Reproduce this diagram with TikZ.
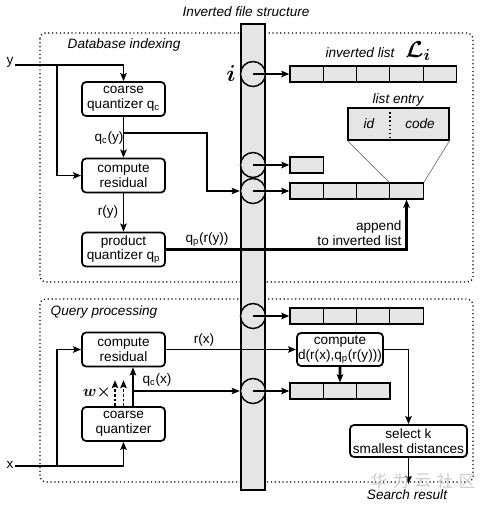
\documentclass[tikz,border=0pt]{standalone}
\usepackage{bm}
\usepackage{fontspec}
\setmainfont{Liberation Sans}
\newfontfamily\cjk{Noto Sans CJK SC}
\usetikzlibrary{arrows.meta,calc}
\tikzset{
 every node/.style={font=\fontsize{10.2}{11}\selectfont},
 box/.style={draw, line width=1.3pt, rounded corners=3pt, fill=white, align=center, inner sep=1pt, minimum width=62.25pt, minimum height=25.5pt},
 cell/.style={draw, line width=0.9pt, fill=gray!20, minimum width=24.98pt, minimum height=12pt, inner sep=0pt},
 slot/.style={draw, line width=1.1pt, fill=gray!20, circle, minimum size=18.75pt, inner sep=0pt},
 arr/.style={-{Stealth[length=6pt,width=4.8pt,inset=1pt]}},
 ln/.style={line width=1.2pt},
 thk/.style={line width=2pt},
 lbl/.style={inner sep=1pt},
 itl/.style={font=\fontsize{10.2}{11}\selectfont\itshape},
 dotbox/.style={dotted, line width=0.9pt, rounded corners=4pt},
 wmark/.style={font=\cjk\fontsize{12.5}{12.5}\selectfont, text=gray!40},
}
\begin{document}
\begin{tikzpicture}[x=0.75pt,y=-0.75pt]
\useasboundingbox (0,0) rectangle (490,508);
% dotted group boxes
\draw[dotbox] (40,33) rectangle (473,282);
\draw[dotbox] (40,299) rectangle (473,482);
\node[itl, anchor=west] (dbl) at (63,45) {Database indexing};
\node[itl, anchor=west] (qpl) at (46,312) {Query processing};
% inverted file bar
\node[itl] (title) at (246,12) {Inverted file structure};
\draw[line width=1pt, fill=gray!20] (241,24) rectangle (265,490);
% slots
\node[slot] (s1) at (253,74) {};
\node[slot] (s2) at (253,165) {};
\node[slot] (s3) at (253,191) {};
\node[slot] (s4) at (253,316) {};
\node[slot] (s5) at (253,391) {};
\node[font=\fontsize{16}{16}\selectfont] (ilab) at (231,74) {$\bm{i}$};
% lists
\foreach \k in {0,...,4} \node[cell] (a\k) at ({290+33.3*(\k+0.5)},74) {};
\node[cell] (b0) at ({290+33.3*0.5},165) {};
\foreach \k in {0,...,3} \node[cell] (c\k) at ({290+33.3*(\k+0.5)},191) {};
\foreach \k in {0,...,3} \node[cell] (d\k) at ({290+33.3*(\k+0.5)},316) {};
\foreach \k in {0,...,2} \node[cell] (e\k) at ({290+33.3*(\k+0.5)},391) {};
\draw[ln,arr] (s1.center) -- (a0.west);
\draw[ln,arr] (s2.center) -- (b0.west);
\draw[ln,arr] (s3.center) -- (c0.west);
\draw[ln,arr] (s4.center) -- (d0.west);
\draw[ln,arr] (s5.center) -- (e0.west);
\node[itl] (ill) at (360,53) {inverted list};
\node[font=\fontsize{17}{17}\selectfont] (Li) at (418,51) {$\bm{\mathcal{L}_i}$};
% list entry
\node[cell, minimum width=75.75pt, minimum height=24pt] (le) at (398.5,124) {};
\draw[dotted, line width=1.1pt] (390,108) -- (390,140);
\node[itl] (idl) at (369,124) {id};
\node[itl] (codel) at (420,124) {code};
\node[itl] (lel) at (398,100) {list entry};
\draw[line width=0.4pt, gray!70!black] (le.south west) -- (c3.north west);
\draw[line width=0.4pt, gray!70!black] (le.south east) -- (c3.north east);
% database indexing
\node[box] (cq1) at (123.5,99) {coarse\\quantizer q\textsubscript{c}};
\node[box] (cr1) at (123.5,175.5) {compute\\residual};
\node[box] (pq) at (123.5,249.5) {product\\quantizer q\textsubscript{p}};
\node[anchor=east, inner sep=1pt] (yl) at (15,62) {y};
\coordinate (ys) at (15,65);
\coordinate (yb) at (57,65);
\draw[ln,arr] (ys) -| (cq1.north);
\draw[ln,arr] (yb) |- (cr1.west);
\draw[ln,arr] (cq1.south) -- (cr1.north);
\node[lbl] (qcy) at (109,138) {q\textsubscript{c}(y)};
\coordinate (b1) at (123.5,133);
\draw[thk,arr] (b1) -- (207,133) |- (s3.west);
\draw[ln,arr] (cr1.south) -- (pq.north);
\node[lbl] (ry) at (108,212) {r(y)};
\draw[thk,arr] (pq.east) -| (c3.south);
\node[lbl] (qpry) at (207,240) {q\textsubscript{p}(r(y))};
\node[anchor=south east, align=right, inner sep=1pt] (app) at (403,247) {append\\to inverted list};
% query processing
\node[box] (cr2) at (123.5,349.5) {compute\\residual};
\node[box] (cq2) at (123.5,424) {coarse\\quantizer};
\node[anchor=east, inner sep=1pt] (xl) at (15,465) {x};
\coordinate (xs) at (15,466);
\coordinate (xb) at (57,466);
\draw[ln,arr] (xs) -| (cq2.south);
\draw[ln,arr] (xb) |- (cr2.west);
\draw[ln,arr] ($(cq2.north)+(9.5,0)$) -- ($(cr2.south)+(9.5,0)$);
\draw[ln,dash pattern=on 2pt off 1.5pt,arr] ($(cq2.north)+(-8.5,0)$) -- ++(0,-26);
\draw[ln,dash pattern=on 2pt off 1.5pt,arr] ($(cq2.north)+(0,0)$) -- ++(0,-26);
\node[font=\fontsize{12}{12}\selectfont] (wx) at (97,392) {$\bm{w\times}$};
\coordinate (b2) at (133,391);
\draw[thk,arr] (b2) -- (s5.west);
\node[lbl] (qcx) at (157,380) {q\textsubscript{c}(x)};
\node[box, minimum width=64.5pt, minimum height=24.75pt, inner xsep=0pt] (cd) at (340,349.5) {compute\\d(r(x),q\textsubscript{p}(r(y)))};
\draw[ln,arr] (cr2.east) -- (cd.west);
\node[lbl] (rx) at (204,340) {r(x)};
\draw[thk,arr] (cd.south) -- (e1.north);
\node[box, minimum width=87.75pt, minimum height=24pt] (sel) at (408.5,441) {select k\\smallest distances};
\draw[ln,arr] (cd.east) -| (sel.north);
\coordinate (srtip) at (408.5,484);
\draw[ln,arr] (sel.south) -- (srtip);
\node[itl] (sr) at (407,495) {Search result};
% watermark
\node[wmark] (w1) at (379,481) {华};
\node[wmark] (w2) at (401,481) {为};
\node[wmark] (w3) at (423,481) {云};
\node[wmark] (w4) at (445,481) {社};
\node[wmark] (w5) at (467,481) {区};
\end{tikzpicture}
\end{document}
